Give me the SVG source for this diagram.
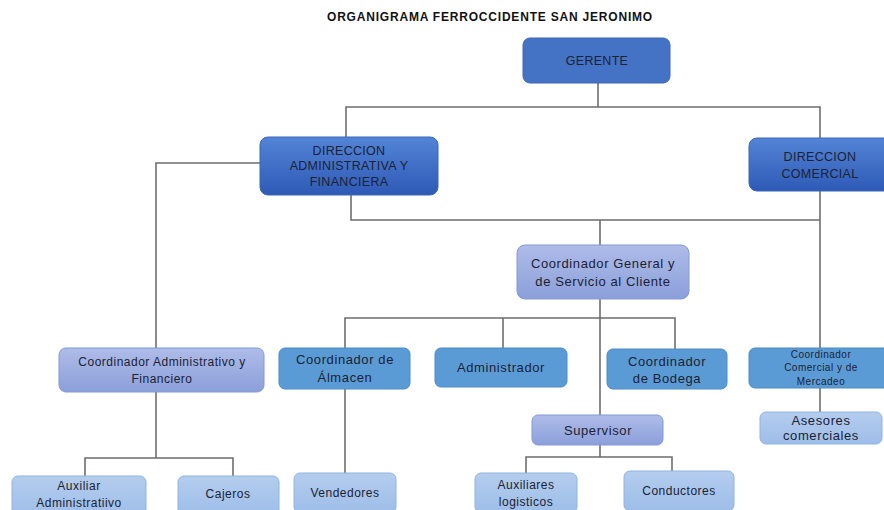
<svg xmlns="http://www.w3.org/2000/svg" width="884" height="510" viewBox="0 0 884 510">
<defs>
<linearGradient id="gDir" x1="0" y1="0" x2="0" y2="1"><stop offset="0" stop-color="#5384D6"/><stop offset="1" stop-color="#2E5AB6"/></linearGradient>
<linearGradient id="gLav" x1="0" y1="0" x2="0" y2="1"><stop offset="0" stop-color="#AEBCE8"/><stop offset="1" stop-color="#8B9FDA"/></linearGradient>
<linearGradient id="gLight" x1="0" y1="0" x2="0" y2="1"><stop offset="0" stop-color="#B4CDEE"/><stop offset="1" stop-color="#9DBDE8"/></linearGradient>
</defs>
<style>
text{font-family:"Liberation Sans",Arial,sans-serif;fill:#1B2233;text-anchor:middle}
.c{font-size:12.5px;letter-spacing:0.3px}
.m{font-size:13px;letter-spacing:0.6px}
.s{font-size:12px;letter-spacing:0.5px}
.xs{font-size:10px;letter-spacing:0.5px}
.title{font-size:12px;font-weight:bold;letter-spacing:0.8px;fill:#111}
.ger{fill:#4472C4;stroke:#3B66B5;stroke-width:1}
.dir{fill:url(#gDir);stroke:#3A66B8;stroke-width:1}
.lav{fill:url(#gLav);stroke:#8398D8;stroke-width:1}
.med{fill:#5B9BD5;stroke:#4D8BC6;stroke-width:1}
.lig{fill:url(#gLight);stroke:#8FB4E4;stroke-width:1}
#connectors path{fill:none;stroke:#6E6E6E;stroke-width:1.6}
</style>
<text class="title" x="490" y="21">ORGANIGRAMA FERROCCIDENTE SAN JERONIMO</text>
<g id="connectors">
<path d="M598 83V107M346 137V107H820V138"/>
<path d="M260 163H156V348"/>
<path d="M351 195V220H820M820 191V348M820 388V412M600 220V245"/>
<path d="M600 299V415M345 348V318H675V349M503 318V348"/>
<path d="M345 389V473"/>
<path d="M156 392V458M85 476V458H233V476"/>
<path d="M600 445V457M526 473V457H672V471"/>
</g>
<g id="gerente"><rect class="ger" x="523" y="38" width="147" height="45" rx="7"/><text class="c" x="597" y="65">GERENTE</text></g>
<g id="dir-admin"><rect class="dir" x="260" y="137" width="178" height="58" rx="8"/><text class="c" x="349" y="155">DIRECCION</text><text class="c" x="349" y="170">ADMINISTRATIVA Y</text><text class="c" x="349" y="186">FINANCIERA</text></g>
<g id="dir-comercial"><rect class="dir" x="749" y="138" width="145" height="53" rx="8"/><text class="c" x="820" y="161">DIRECCION</text><text class="c" x="820" y="178">COMERCIAL</text></g>
<g id="coord-general"><rect class="lav" x="517" y="245" width="172" height="54" rx="8"/><text class="m" x="603" y="268">Coordinador General y</text><text class="m" x="603" y="286">de Servicio al Cliente</text></g>
<g id="coord-admin"><rect class="lav" x="59" y="348" width="205" height="44" rx="7"/><text class="s" x="162" y="366">Coordinador Administrativo y</text><text class="s" x="162" y="383">Financiero</text></g>
<g id="coord-almacen"><rect class="med" x="279" y="348" width="131" height="41" rx="6"/><text class="m" x="345" y="364">Coordinador de</text><text class="m" x="345" y="382">Álmacen</text></g>
<g id="administrador"><rect class="med" x="435" y="348" width="132" height="39" rx="6"/><text class="m" x="501" y="372">Administrador</text></g>
<g id="coord-bodega"><rect class="med" x="607" y="349" width="120" height="40" rx="6"/><text class="m" x="667" y="366">Coordinador</text><text class="m" x="667" y="383">de Bodega</text></g>
<g id="coord-comercial"><rect class="med" x="749" y="348" width="145" height="40" rx="6"/><text class="xs" x="821" y="358">Coordinador</text><text class="xs" x="821" y="371">Comercial y de</text><text class="xs" x="821" y="385">Mercadeo</text></g>
<g id="asesores"><rect class="lig" x="760" y="412" width="122" height="32" rx="6"/><text class="m" x="821" y="425">Asesores</text><text class="m" x="821" y="440">comerciales</text></g>
<g id="supervisor"><rect class="lav" x="532" y="415" width="131" height="30" rx="6"/><text class="m" x="598" y="435">Supervisor</text></g>
<g id="auxiliar-admin"><rect class="lig" x="12" y="476" width="134" height="42" rx="6"/><text class="s" x="79" y="490">Auxiliar</text><text class="s" x="79" y="507">Administratiivo</text></g>
<g id="cajeros"><rect class="lig" x="178" y="476" width="101" height="40" rx="6"/><text class="s" x="228" y="498">Cajeros</text></g>
<g id="vendedores"><rect class="lig" x="294" y="473" width="102" height="40" rx="6"/><text class="s" x="345" y="497">Vendedores</text></g>
<g id="auxiliares-logisticos"><rect class="lig" x="475" y="473" width="102" height="40" rx="6"/><text class="s" x="526" y="489">Auxiliares</text><text class="s" x="526" y="506">logisticos</text></g>
<g id="conductores"><rect class="lig" x="624" y="471" width="110" height="40" rx="6"/><text class="s" x="679" y="495">Conductores</text></g>
</svg>
